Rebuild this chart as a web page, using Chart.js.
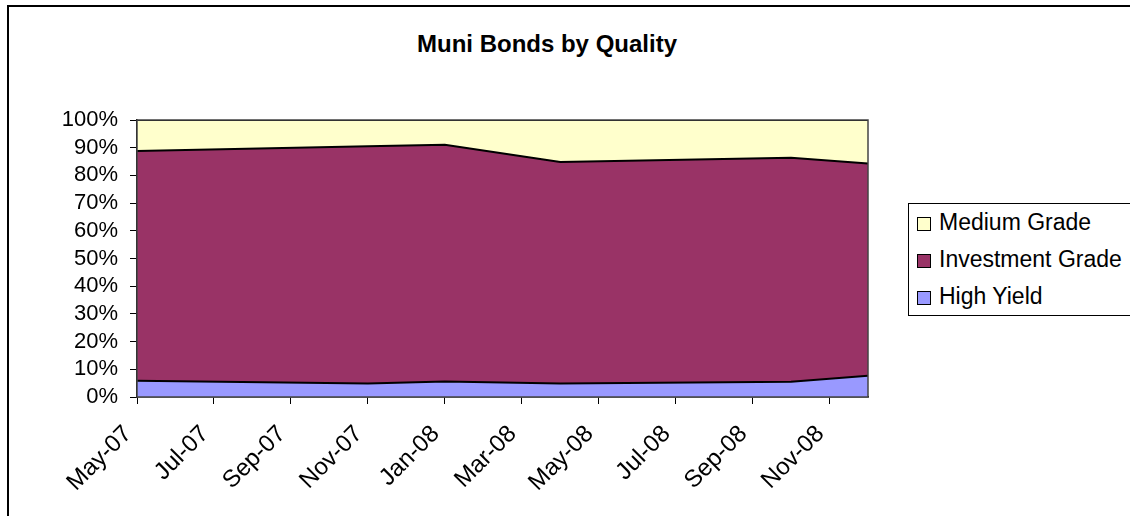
<!DOCTYPE html>
<html>
<head>
<meta charset="utf-8">
<script src="https://cdn.jsdelivr.net/npm/chart.js@4/dist/chart.umd.min.js"></script>
<style>
  html, body { margin: 0; padding: 0; background: #fff; overflow: hidden; }
  #wrap { position: relative; width: 1130px; height: 516px; }
  #frame { position: absolute; left: 7px; top: 5px; width: 1140px; height: 530px; border: 2px solid #000; box-sizing: border-box; }
  #title { position: absolute; left: 0; width: 1094px; top: 30px; text-align: center; font: bold 24px "Liberation Sans", Arial, sans-serif; color: #000; }
  #legend { position: absolute; left: 908px; top: 203px; width: 240px; height: 113px; border: 1px solid #000; box-sizing: border-box; background: #fff; font: 23px "Liberation Sans", Arial, sans-serif; }
  #legend div { position: absolute; left: 8px; height: 26px; line-height: 26px; white-space: nowrap; }
  #legend span { display: inline-block; width: 12px; height: 12px; border: 1px solid #000; margin-right: 8px; vertical-align: -1px; }
  canvas { position: absolute; left: 0; top: 0; }
</style>
</head>
<body>
<div id="wrap">
  <div id="frame"></div>
  <div id="title">Muni Bonds by Quality</div>
  <canvas id="c" width="1130" height="516"></canvas>
  <div id="legend"></div>
</div>
<script>
// months counted from May-07 (0) to Dec-08 (19)
var monthNames = ["May-07","Jun-07","Jul-07","Aug-07","Sep-07","Oct-07","Nov-07","Dec-07","Jan-08","Feb-08",
                  "Mar-08","Apr-08","May-08","Jun-08","Jul-08","Aug-08","Sep-08","Oct-08","Nov-08","Dec-08"];
var months = [0, 6, 8, 11, 17, 19];
var highYield = [5.9, 4.9, 5.6, 4.9, 5.5, 7.7];
var investmentGrade = [82.9, 85.6, 85.5, 79.9, 80.9, 76.6];
var mediumGrade = [11.2, 9.5, 8.9, 15.2, 13.6, 15.7];

var seriesNames = ["High Yield", "Investment Grade", "Medium Grade"];
var seriesColors = ["#9999FF", "#993366", "#FFFFCC"];
var seriesValues = [highYield, investmentGrade, mediumGrade];

function pts(vals) {
  return vals.map(function (v, i) { return { x: months[i], y: v }; });
}

var datasets = seriesValues.map(function (vals, i) {
  return {
    label: seriesNames[i],
    data: pts(vals),
    backgroundColor: seriesColors[i],
    borderColor: "#000",
    borderWidth: 2,
    pointRadius: 0,
    tension: 0,
    fill: i === 0 ? "origin" : "-1"
  };
});

var frame = {
  id: "plotFrame",
  afterDatasetsDraw: function (chart) {
    var a = chart.chartArea, ctx = chart.ctx;
    ctx.save();
    ctx.strokeStyle = "#444";
    ctx.lineWidth = 1.5;
    ctx.strokeRect(a.left, a.top, a.right - a.left, a.bottom - a.top);
    ctx.restore();
  }
};

var yFont = { family: "'Liberation Sans', Arial, sans-serif", size: 22 };
var xFont = { family: "'Liberation Sans', Arial, sans-serif", size: 24 };

new Chart(document.getElementById("c"), {
  type: "line",
  data: { datasets: datasets },
  plugins: [frame],
  options: {
    responsive: false,
    animation: false,
    layout: { padding: { left: 10, right: 262, top: 120, bottom: 0 } },
    plugins: { legend: { display: false }, title: { display: false }, tooltip: { enabled: false } },
    scales: {
      x: {
        type: "linear",
        min: 0, max: 19,
        afterFit: function (s) { s.height = 119; },
        grid: { drawOnChartArea: false, drawTicks: true, tickLength: 7, color: "#000" },
        border: { color: "#000", width: 1.5 },
        ticks: {
          stepSize: 2, includeBounds: false, autoSkip: false,
          minRotation: 45, maxRotation: 45, padding: 16, labelOffset: -9,
          color: "#000", font: xFont,
          callback: function (v) { return v % 2 === 0 ? monthNames[v] : ""; }
        }
      },
      y: {
        stacked: true,
        min: 0, max: 100,
        afterFit: function (s) { s.width = 127; },
        grid: { drawOnChartArea: false, drawTicks: true, tickLength: 7, color: "#000" },
        border: { color: "#000", width: 1.5 },
        ticks: {
          stepSize: 10, padding: 12, autoSkip: false, color: "#000", font: yFont,
          callback: function (v) { return v + "%"; }
        }
      }
    }
  }
});

// legend, top to bottom as in the reference
var lg = document.getElementById("legend");
for (var i = seriesNames.length - 1, row = 0; i >= 0; i--, row++) {
  var d = document.createElement("div");
  d.style.top = (5 + row * 37) + "px";
  d.innerHTML = '<span style="background:' + seriesColors[i] + '"></span>' + seriesNames[i];
  lg.appendChild(d);
}
</script>
</body>
</html>
